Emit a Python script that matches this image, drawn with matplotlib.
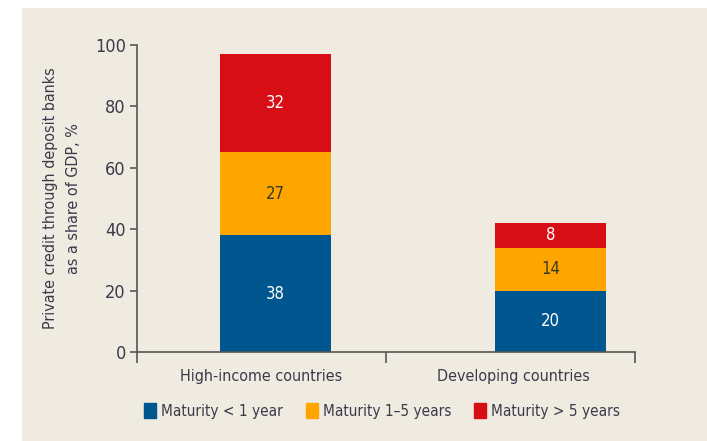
import matplotlib.pyplot as plt
from matplotlib.patches import Rectangle, Patch

# data
categories = ["High-income countries", "Developing countries"]
short_term = [38, 20]
mid_term = [27, 14]
long_term = [32, 8]
series_names = ["Maturity < 1 year", "Maturity 1\u20135 years", "Maturity > 5 years"]

# style
blue = "#00578F"
orange = "#FFA500"
red = "#D80E16"
panel = "#EFEBE1"
axis_col = "#555555"
text_col = "#3a3a4a"

plt.rcParams['font.family'] = ['Liberation Sans Narrow', 'DejaVu Sans']
plt.rcParams['font.stretch'] = 'condensed'

fig = plt.figure(figsize=(7.07, 4.41), dpi=100, facecolor="white")
fig.patches.append(Rectangle((22 / 707, 0), 1, 1 - 8 / 441, transform=fig.transFigure,
                             facecolor=panel, edgecolor="none", zorder=-5))

ax = fig.add_axes([137 / 707, 1 - 352 / 441, 498 / 707, 307 / 441])
ax.set_facecolor("none")
ax.set_zorder(2)

pos = [0.556, 1.66]
w = 0.446
b1 = ax.bar(pos, short_term, w, color=blue, zorder=2)
bottom2 = short_term
b2 = ax.bar(pos, mid_term, w, bottom=bottom2, color=orange, zorder=2)
bottom3 = [a + b for a, b in zip(short_term, mid_term)]
b3 = ax.bar(pos, long_term, w, bottom=bottom3, color=red, zorder=2)

for bars, vals, col in [(b1, short_term, "white"), (b2, mid_term, "#3a3a20"), (b3, long_term, "white")]:
    for r, v in zip(bars, vals):
        ax.text(r.get_x() + r.get_width() / 2, r.get_y() + r.get_height() / 2, str(v),
                ha="center", va="center", color=col, fontsize=12)

ax.set_xlim(0, 2)
ax.set_ylim(0, 100)
ax.set_yticks([0, 20, 40, 60, 80, 100])
ax.set_xticks([0, 1, 2])
ax.set_xticklabels([])
for s in ["top", "right"]:
    ax.spines[s].set_visible(False)
for s in ["left", "bottom"]:
    ax.spines[s].set_color(axis_col)
    ax.spines[s].set_linewidth(1.2)
ax.tick_params(axis="y", length=5, width=1.2, color=axis_col, labelsize=13, labelcolor=text_col, pad=3)
ax.tick_params(axis="x", length=8, width=1.2, color=axis_col)

for p, c in zip([0.5, 1.51], categories):
    ax.text(p, -5.5, c, ha="center", va="top", fontsize=11.5, color=text_col,
            transform=ax.transData)

ax.set_ylabel("Private credit through deposit banks\nas a share of GDP, %", fontsize=11.5,
              color=text_col, labelpad=10, linespacing=1.7)

handles = [Patch(color=blue), Patch(color=orange), Patch(color=red)]
fig.legend(handles, series_names, loc="center", bbox_to_anchor=(382 / 707, 1 - 411 / 441),
           ncol=3, frameon=False, fontsize=11, handlelength=0.8, handleheight=1.1,
           handletextpad=0.3, columnspacing=1.5, labelcolor=text_col)

fig.savefig("out.png", dpi=100, facecolor="white")
